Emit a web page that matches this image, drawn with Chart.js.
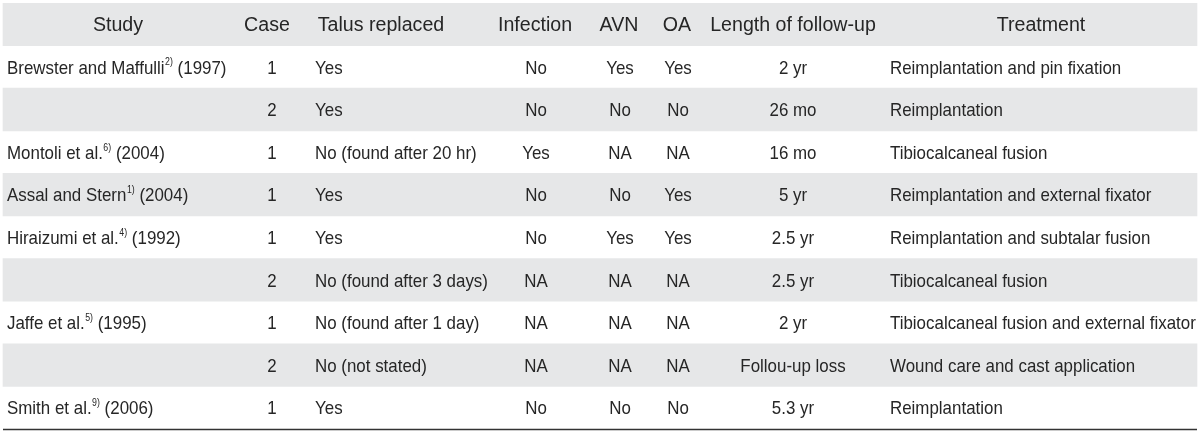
<!DOCTYPE html>
<html>
<head>
<meta charset="utf-8">
<script src="https://cdn.jsdelivr.net/npm/chart.js@4"></script>
<style>
  html, body { margin: 0; padding: 0; background: #ffffff; }
  #wrap { width: 1200px; height: 432px; position: relative; }
</style>
</head>
<body>
<div id="wrap"><canvas id="table-chart"></canvas></div>
<script>
// Table content
const headers = ['Study', 'Case', 'Talus replaced', 'Infection', 'AVN', 'OA', 'Length of follow-up', 'Treatment'];
const studies = ['Brewster and Maffulli', '', 'Montoli et al.', 'Assal and Stern', 'Hiraizumi et al.', '', 'Jaffe et al.', '', 'Smith et al.'];
const refs = ['2)', '', '6)', '1)', '4)', '', '5)', '', '9)'];
const years = ['(1997)', '', '(2004)', '(2004)', '(1992)', '', '(1995)', '', '(2006)'];
const cases = ['1', '2', '1', '1', '1', '2', '1', '2', '1'];
const talusReplaced = ['Yes', 'Yes', 'No (found after 20 hr)', 'Yes', 'Yes', 'No (found after 3 days)', 'No (found after 1 day)', 'No (not stated)', 'Yes'];
const infection = ['No', 'No', 'Yes', 'No', 'No', 'NA', 'NA', 'NA', 'No'];
const avn = ['Yes', 'No', 'NA', 'No', 'Yes', 'NA', 'NA', 'NA', 'No'];
const oa = ['Yes', 'No', 'NA', 'Yes', 'Yes', 'NA', 'NA', 'NA', 'No'];
const followUp = ['2 yr', '26 mo', '16 mo', '5 yr', '2.5 yr', '2.5 yr', '2 yr', 'Follou-up loss', '5.3 yr'];
const treatment = ['Reimplantation and pin fixation', 'Reimplantation', 'Tibiocalcaneal fusion', 'Reimplantation and external fixator',
    'Reimplantation and subtalar fusion', 'Tibiocalcaneal fusion', 'Tibiocalcaneal fusion and external fixator',
    'Wound care and cast application', 'Reimplantation'];

// Layout: header anchor / value anchor on the x scale (0..1200), and alignment of values
const columns = [
    { head: 118, x: 7, align: 'left' },
    { head: 267, x: 272, align: 'center' },
    { head: 381, x: 315, align: 'left' },
    { head: 535, x: 536, align: 'center' },
    { head: 619, x: 620, align: 'center' },
    { head: 677, x: 678, align: 'center' },
    { head: 793, x: 793, align: 'center' },
    { head: 1041, x: 890, align: 'left' }
];
const rowLabels = ['head'].concat(cases.map((c, i) => 'r' + i));
const TEXT = '#262626';
const BAND = '#e6e7e8';
const HEAD_FONT = '20px "Liberation Sans", Arial, sans-serif';
const BODY_FONT = '19px "Liberation Sans", Arial, sans-serif';
const SUP_FONT = '11px "Liberation Sans", Arial, sans-serif';
const BODY_SQUEEZE = 0.89;   // condensed look of the body text
const HEAD_SQUEEZE = 0.98;

// Shaded bands: header and every second data row
const bands = rowLabels.map((r, i) => (i % 2 === 0 ? [3, 1197] : null));

// Draw text squeezed horizontally, returns its drawn width
function drawText(ctx, text, px, py, align, sx) {
    ctx.save();
    ctx.translate(px, py);
    ctx.scale(sx, 1);
    ctx.textAlign = align;
    ctx.fillText(text, 0, 0);
    ctx.restore();
    return ctx.measureText(text).width * sx;
}

const tableText = {
    id: 'tableText',
    afterDatasetsDraw(chart) {
        const ctx = chart.ctx;
        const x = chart.scales.x;
        const y = chart.scales.y;
        ctx.save();
        ctx.fillStyle = TEXT;
        ctx.textBaseline = 'middle';

        // Header row
        ctx.font = HEAD_FONT;
        headers.forEach((h, c) => {
            drawText(ctx, h, x.getPixelForValue(columns[c].head), y.getPixelForValue(0) + 1, 'center', HEAD_SQUEEZE);
        });

        // Body rows
        const cols = [null, cases, talusReplaced, infection, avn, oa, followUp, treatment];
        for (let r = 0; r < cases.length; r++) {
            const py = y.getPixelForValue(r + 1) + 1.5;
            ctx.font = BODY_FONT;
            // Study with superscript reference
            if (studies[r]) {
                let px = x.getPixelForValue(columns[0].x);
                px += drawText(ctx, studies[r], px, py, 'left', BODY_SQUEEZE) + 0.5;
                ctx.font = SUP_FONT;
                px += drawText(ctx, refs[r], px, py - 6, 'left', 0.8);
                ctx.font = BODY_FONT;
                drawText(ctx, ' ' + years[r], px, py, 'left', BODY_SQUEEZE);
            }
            for (let c = 1; c < cols.length; c++) {
                drawText(ctx, cols[c][r], x.getPixelForValue(columns[c].x), py, columns[c].align, BODY_SQUEEZE);
            }
        }

        // Bottom rule
        ctx.strokeStyle = '#333333';
        ctx.lineWidth = 1.5;
        ctx.beginPath();
        ctx.moveTo(x.getPixelForValue(3), chart.chartArea.bottom + 0.5);
        ctx.lineTo(x.getPixelForValue(1197), chart.chartArea.bottom + 0.5);
        ctx.stroke();
        ctx.restore();
    }
};

new Chart(document.getElementById('table-chart'), {
    type: 'bar',
    data: {
        labels: rowLabels,
        datasets: [{
            data: bands,
            backgroundColor: BAND,
            borderWidth: 0,
            barPercentage: 1,
            categoryPercentage: 1
        }]
    },
    options: {
        indexAxis: 'y',
        responsive: true,
        maintainAspectRatio: false,
        animation: false,
        layout: { padding: { top: 3, bottom: 3, left: 0, right: 0 } },
        scales: {
            x: { type: 'linear', min: 0, max: 1200, display: false },
            y: { display: false }
        },
        plugins: {
            legend: { display: false },
            tooltip: { enabled: false }
        }
    },
    plugins: [tableText]
});
</script>
</body>
</html>
